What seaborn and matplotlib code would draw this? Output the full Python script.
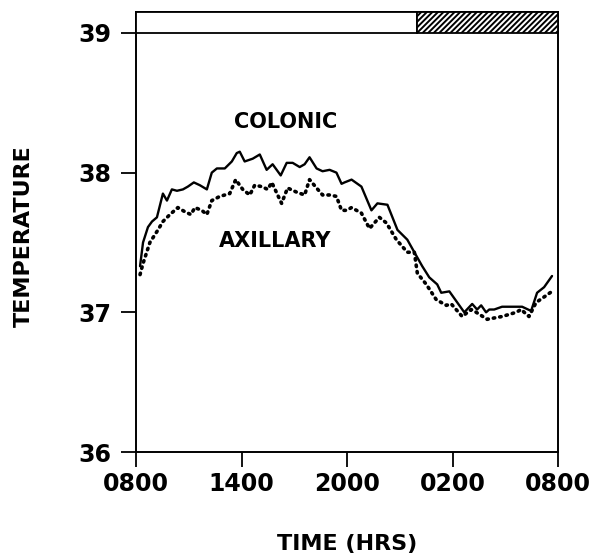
import matplotlib
matplotlib.use("Agg")
import matplotlib.pyplot as plt
import matplotlib.patches as mpatches
import seaborn as sns
import pandas as pd

# ---- data (hours after 0800, temperature) ----
colonic_t = [0.23, 0.40, 0.68, 0.91, 1.19, 1.53, 1.76, 2.04, 2.33, 2.67, 2.95, 3.29, 3.63,
             4.03, 4.31, 4.60, 5.05, 5.45, 5.73, 5.90, 6.18, 6.64, 7.04, 7.43, 7.77, 8.23,
             8.57, 8.91, 9.31, 9.59, 9.87, 10.27, 10.61, 11.01, 11.40, 11.69, 11.86, 12.26,
             12.82, 13.39, 13.73, 14.30, 14.87, 15.43, 15.83, 16.28, 16.68, 17.13, 17.36,
             17.82, 17.99, 18.67, 19.12, 19.40, 19.63, 19.91, 20.09, 20.37, 20.82, 21.33,
             21.96, 22.47, 22.81, 23.21, 23.66]
colonic_temp = [37.33, 37.50, 37.61, 37.65, 37.68, 37.85, 37.80, 37.88, 37.87, 37.88, 37.90,
                37.93, 37.91, 37.88, 38.00, 38.03, 38.03, 38.08, 38.14, 38.15, 38.08, 38.10,
                38.13, 38.02, 38.06, 37.98, 38.07, 38.07, 38.04, 38.06, 38.11, 38.03, 38.01,
                38.02, 38.00, 37.92, 37.93, 37.95, 37.90, 37.73, 37.78, 37.77, 37.59, 37.52,
                37.43, 37.33, 37.25, 37.20, 37.14, 37.15, 37.12, 37.00, 37.06, 37.02, 37.05,
                37.00, 37.02, 37.02, 37.04, 37.04, 37.04, 37.01, 37.14, 37.18, 37.26]

axillary_t = [0.23, 0.40, 0.79, 1.25, 1.53, 1.93, 2.38, 2.78, 3.12, 3.35, 3.74, 4.03, 4.31,
              4.77, 5.33, 5.67, 6.07, 6.47, 6.75, 7.15, 7.49, 7.72, 8.28, 8.62, 9.14, 9.59,
              9.87, 10.27, 10.61, 11.01, 11.40, 11.69, 11.97, 12.26, 12.82, 13.28, 13.84,
              14.24, 14.81, 15.43, 15.83, 16.00, 16.51, 17.08, 17.65, 17.93, 18.55, 19.06,
              19.35, 19.97, 20.82, 21.62, 21.90, 22.35, 22.75, 23.21, 23.66]
axillary_temp = [37.27, 37.35, 37.50, 37.59, 37.65, 37.70, 37.75, 37.72, 37.70, 37.75, 37.73,
                 37.70, 37.80, 37.83, 37.85, 37.95, 37.88, 37.84, 37.91, 37.90, 37.88, 37.93,
                 37.78, 37.89, 37.86, 37.84, 37.95, 37.89, 37.84, 37.84, 37.83, 37.73, 37.73,
                 37.75, 37.71, 37.60, 37.68, 37.64, 37.52, 37.43, 37.43, 37.28, 37.20, 37.09,
                 37.05, 37.06, 36.97, 37.02, 37.00, 36.95, 36.97, 37.00, 37.02, 36.97, 37.07,
                 37.11, 37.15]

x_ticks = [0, 6, 12, 18, 24]
x_tick_labels = ["0800", "1400", "2000", "0200", "0800"]
y_ticks = [36, 37, 38, 39]
dark_start, dark_end = 16, 24

sns.set_style("ticks")
plt.rcParams['font.family'] = ['DejaVu Sans']
plt.rcParams['font.weight'] = 'bold'
plt.rcParams['hatch.linewidth'] = 1.4
plt.rcParams['text.color'] = 'black'
plt.rcParams['axes.labelcolor'] = 'black'
plt.rcParams['xtick.color'] = 'black'
plt.rcParams['ytick.color'] = 'black'

fig = plt.figure(figsize=(6.06, 5.59), dpi=100)
ax = fig.add_axes([136/606, 1-452/559, 422/606, 440/559])

df_c = pd.DataFrame({"t": colonic_t, "temp": colonic_temp})
df_a = pd.DataFrame({"t": axillary_t, "temp": axillary_temp})
sns.lineplot(data=df_c, x="t", y="temp", ax=ax, color="black", lw=1.7, sort=False)
sns.lineplot(data=df_a, x="t", y="temp", ax=ax, color="black", lw=2.6, sort=False,
             linestyle=(0, (0.4, 1.4)), dash_capstyle="round")

ax.set_xlim(0, 24)
ax.set_ylim(36, 39.15)

# light/dark band on top
ax.add_patch(mpatches.Rectangle((0, 39), dark_start, 0.15, facecolor="white",
                                edgecolor="black", lw=1.3, zorder=3, clip_on=False))
ax.add_patch(mpatches.Rectangle((dark_start, 39), dark_end - dark_start, 0.15,
                                facecolor="white", edgecolor="black", hatch="//////",
                                lw=1.3, zorder=3, clip_on=False))

for s in ax.spines.values():
    s.set_linewidth(1.4)
    s.set_color("black")

ax.set_xticks(x_ticks)
ax.set_xticklabels(x_tick_labels)
ax.set_yticks(y_ticks)
ax.set_yticklabels([str(v) for v in y_ticks])
ax.tick_params(axis="x", direction="out", length=10.5, width=1.3, pad=4,
               labelsize=17, colors="black")
ax.tick_params(axis="y", direction="out", length=11, width=1.3, pad=7,
               labelsize=17, colors="black")
for lab in ax.get_xticklabels() + ax.get_yticklabels():
    lab.set_fontweight("bold")

ax.set_xlabel("TIME (HRS)", fontsize=16, fontweight="bold", va="center", color="black")
ax.xaxis.set_label_coords(0.5, -0.21)
ax.set_ylabel("TEMPERATURE", fontsize=16, fontweight="bold", va="center", color="black")
ax.yaxis.set_label_coords(-0.265, 0.49)

ax.text(8.5, 38.36, "COLONIC", fontsize=15, fontweight="bold", ha="center",
        va="center", color="black")
ax.text(7.9, 37.51, "AXILLARY", fontsize=15, fontweight="bold", ha="center",
        va="center", color="black")

fig.savefig("out.png", dpi=100)
